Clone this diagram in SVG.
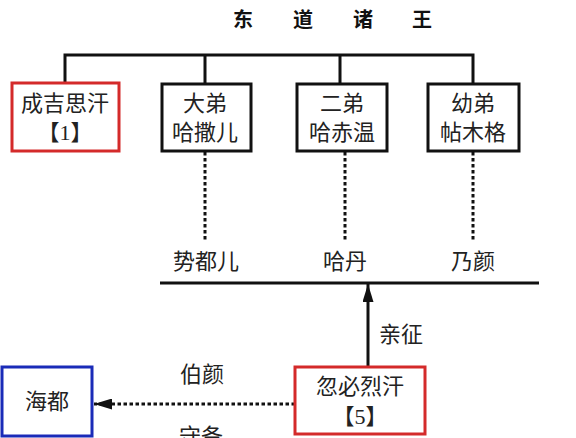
<svg xmlns="http://www.w3.org/2000/svg" width="576" height="438" viewBox="0 0 576 438">
<style>
text{font-family:"Liberation Serif","Noto Sans CJK SC",serif;font-size:22px;fill:#222;text-anchor:middle}
.title{font-size:20px;font-weight:bold;fill:#111}
.box{fill:#fff;stroke-width:3}
.blk{stroke:#111}
.red{stroke:#d42a2a}
.blue{stroke:#1a2bb8}
.ln{stroke:#111;stroke-width:3;fill:none}
.dot{stroke:#111;stroke-width:3;fill:none;stroke-dasharray:3.5 2.5}
</style>
<defs>
<marker id="ah" markerWidth="10" markerHeight="10" viewBox="0 0 10 10" refX="10" refY="5" orient="auto" markerUnits="userSpaceOnUse">
<path d="M0,0 L10,5 L0,10 Z" fill="#111"/>
</marker>
<marker id="ah2" markerWidth="18" markerHeight="11" viewBox="0 0 18 11" refX="18" refY="5.5" orient="auto" markerUnits="userSpaceOnUse">
<path d="M0,0 L18,5.5 L0,11 Z" fill="#111"/>
</marker>
</defs>
<g id="title">
<text class="title" x="243" y="27">东</text>
<text class="title" x="303" y="27">道</text>
<text class="title" x="363" y="27">诸</text>
<text class="title" x="422" y="27">王</text>
</g>
<g id="connectors">
<path class="ln" d="M65,84 V55 H473 V84 M205,55 V84 M340,55 V84"/>
<path class="dot" d="M205,152 V242 M345,152 V242 M473,152 V242"/>
<path class="ln" d="M160,283 H539"/>
<path class="ln" d="M368,367 V284" marker-end="url(#ah2)"/>
<path class="dot" d="M295,404 H94" marker-end="url(#ah2)"/>
</g>
<g id="n-chengjisi">
<rect class="box red" x="12" y="83" width="107" height="68"/>
<text x="65" y="111">成吉思汗</text>
<text x="65" y="140">【1】</text>
</g>
<g id="n-dadi">
<rect class="box blk" x="162" y="84" width="89" height="67"/>
<text x="205" y="111">大弟</text>
<text x="205" y="140">哈撒儿</text>
</g>
<g id="n-erdi">
<rect class="box blk" x="297" y="84" width="90" height="67"/>
<text x="342" y="111">二弟</text>
<text x="342" y="140">哈赤温</text>
</g>
<g id="n-youdi">
<rect class="box blk" x="428" y="84" width="91" height="67"/>
<text x="473" y="111">幼弟</text>
<text x="473" y="140">帖木格</text>
</g>
<g id="labels">
<text x="206" y="269">势都儿</text>
<text x="345" y="269">哈丹</text>
<text x="473" y="269">乃颜</text>
<text x="401" y="342">亲征</text>
<text x="202" y="382">伯颜</text>
<text x="201" y="444">守备</text>
</g>
<g id="n-haidu">
<rect class="box blue" x="2" y="367" width="90" height="69"/>
<text x="47" y="409">海都</text>
</g>
<g id="n-hubilie">
<rect class="box red" x="295" y="367" width="130" height="67"/>
<text x="360" y="394">忽必烈汗</text>
<text x="360" y="424">【5】</text>
</g>
</svg>
